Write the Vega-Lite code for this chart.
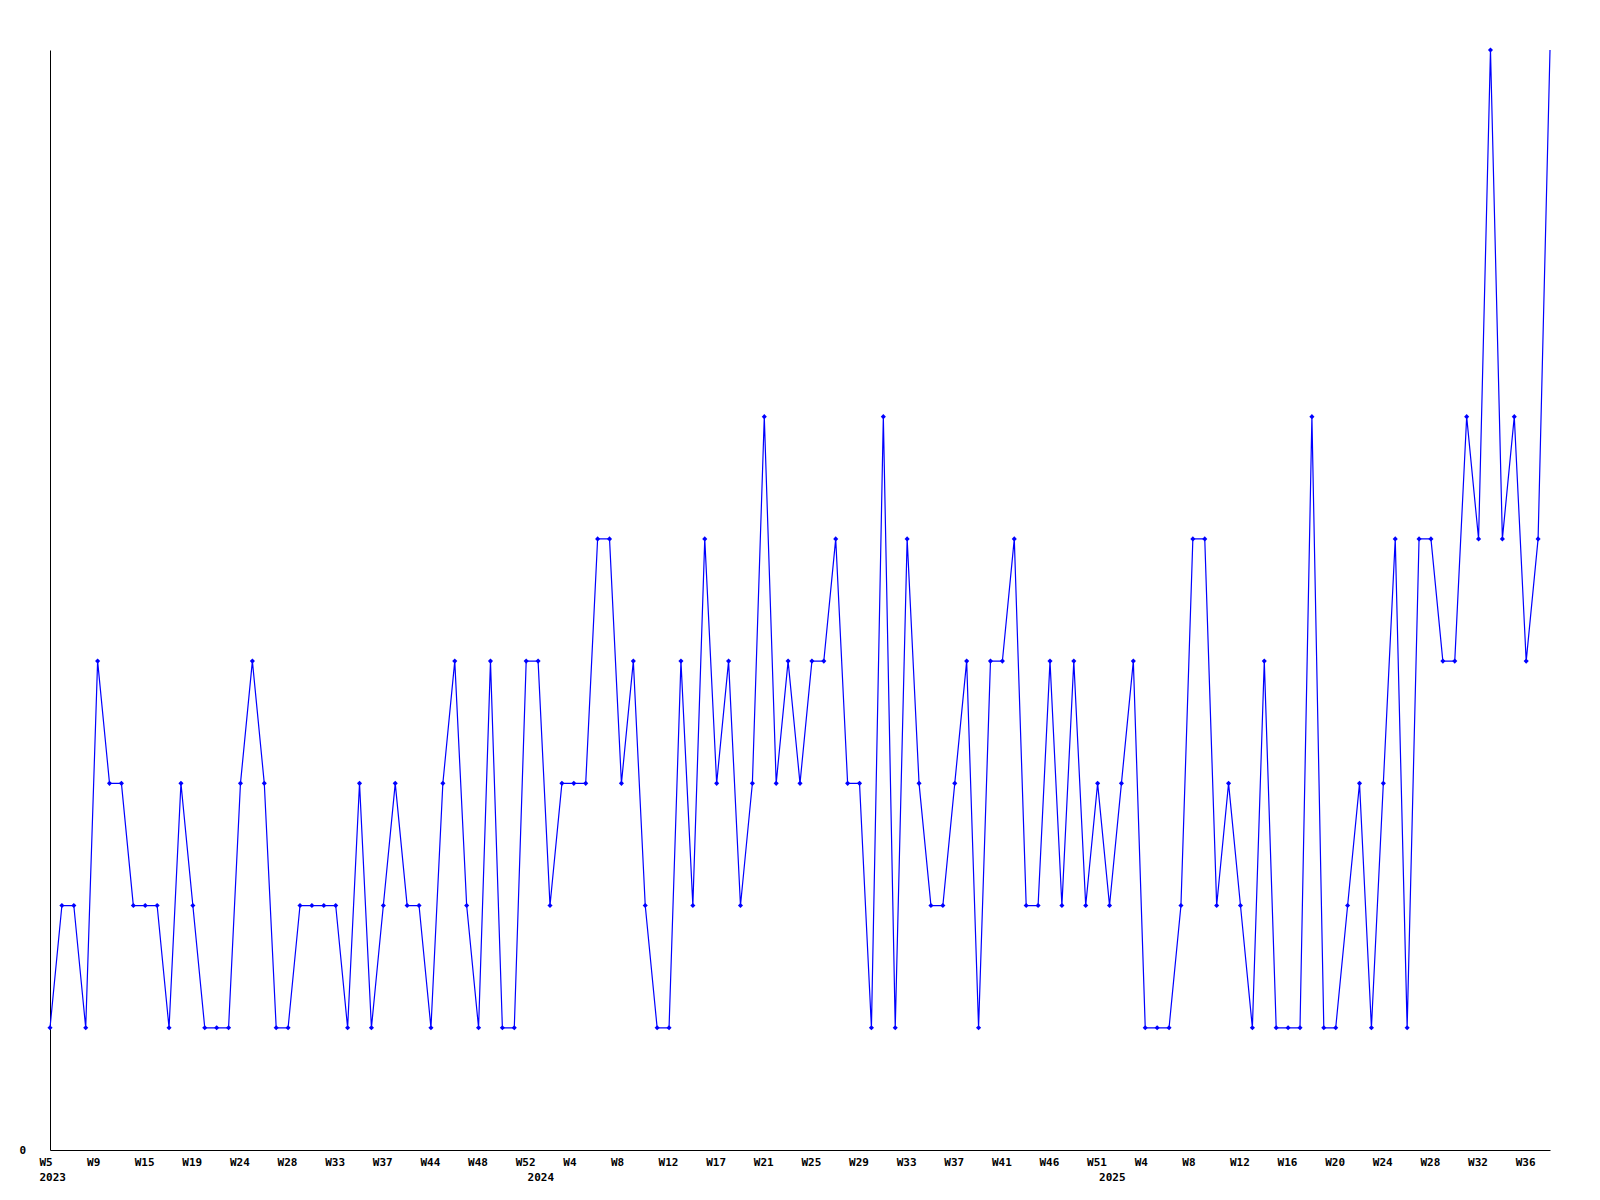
{
  "$schema": "https://vega.github.io/schema/vega-lite/v6.json",
  "width": 1500,
  "height": 1100,
  "autosize": {"type": "none"},
  "padding": {"left": 50, "top": 50, "right": 50, "bottom": 50},
  "background": "white",
  "config": {
    "view": {"stroke": null},
    "axis": {
      "labelFont": "DejaVu Sans Mono",
      "labelFontWeight": "bold",
      "labelFontSize": 11,
      "labelColor": "black",
      "domainColor": "black",
      "domainWidth": 1,
      "ticks": false,
      "grid": false,
      "title": null
    }
  },
  "data": {
    "values": [
      {"week": "2023-W05", "v": 1}, {"week": "2023-W06", "v": 2}, {"week": "2023-W07", "v": 2}, {"week": "2023-W08", "v": 1},
      {"week": "2023-W09", "v": 4}, {"week": "2023-W10", "v": 3}, {"week": "2023-W11", "v": 3}, {"week": "2023-W13", "v": 2},
      {"week": "2023-W15", "v": 2}, {"week": "2023-W16", "v": 2}, {"week": "2023-W17", "v": 1}, {"week": "2023-W18", "v": 3},
      {"week": "2023-W19", "v": 2}, {"week": "2023-W20", "v": 1}, {"week": "2023-W21", "v": 1}, {"week": "2023-W23", "v": 1},
      {"week": "2023-W24", "v": 3}, {"week": "2023-W25", "v": 4}, {"week": "2023-W26", "v": 3}, {"week": "2023-W27", "v": 1},
      {"week": "2023-W28", "v": 1}, {"week": "2023-W29", "v": 2}, {"week": "2023-W30", "v": 2}, {"week": "2023-W32", "v": 2},
      {"week": "2023-W33", "v": 2}, {"week": "2023-W34", "v": 1}, {"week": "2023-W35", "v": 3}, {"week": "2023-W36", "v": 1},
      {"week": "2023-W37", "v": 2}, {"week": "2023-W38", "v": 3}, {"week": "2023-W40", "v": 2}, {"week": "2023-W42", "v": 2},
      {"week": "2023-W44", "v": 1}, {"week": "2023-W45", "v": 3}, {"week": "2023-W46", "v": 4}, {"week": "2023-W47", "v": 2},
      {"week": "2023-W48", "v": 1}, {"week": "2023-W49", "v": 4}, {"week": "2023-W50", "v": 1}, {"week": "2023-W51", "v": 1},
      {"week": "2023-W52", "v": 4},
      {"week": "2024-W01", "v": 4}, {"week": "2024-W02", "v": 2}, {"week": "2024-W03", "v": 3},
      {"week": "2024-W04", "v": 3}, {"week": "2024-W05", "v": 3}, {"week": "2024-W06", "v": 5}, {"week": "2024-W07", "v": 5},
      {"week": "2024-W08", "v": 3}, {"week": "2024-W09", "v": 4}, {"week": "2024-W10", "v": 2}, {"week": "2024-W11", "v": 1},
      {"week": "2024-W12", "v": 1}, {"week": "2024-W13", "v": 4}, {"week": "2024-W14", "v": 2}, {"week": "2024-W16", "v": 5},
      {"week": "2024-W17", "v": 3}, {"week": "2024-W18", "v": 4}, {"week": "2024-W19", "v": 2}, {"week": "2024-W20", "v": 3},
      {"week": "2024-W21", "v": 6}, {"week": "2024-W22", "v": 3}, {"week": "2024-W23", "v": 4}, {"week": "2024-W24", "v": 3},
      {"week": "2024-W25", "v": 4}, {"week": "2024-W26", "v": 4}, {"week": "2024-W27", "v": 5}, {"week": "2024-W28", "v": 3},
      {"week": "2024-W29", "v": 3}, {"week": "2024-W30", "v": 1}, {"week": "2024-W31", "v": 6}, {"week": "2024-W32", "v": 1},
      {"week": "2024-W33", "v": 5}, {"week": "2024-W34", "v": 3}, {"week": "2024-W35", "v": 2}, {"week": "2024-W36", "v": 2},
      {"week": "2024-W37", "v": 3}, {"week": "2024-W38", "v": 4}, {"week": "2024-W39", "v": 1}, {"week": "2024-W40", "v": 4},
      {"week": "2024-W41", "v": 4}, {"week": "2024-W42", "v": 5}, {"week": "2024-W43", "v": 2}, {"week": "2024-W45", "v": 2},
      {"week": "2024-W46", "v": 4}, {"week": "2024-W47", "v": 2}, {"week": "2024-W48", "v": 4}, {"week": "2024-W50", "v": 2},
      {"week": "2024-W51", "v": 3},
      {"week": "2025-W01", "v": 2}, {"week": "2025-W02", "v": 3}, {"week": "2025-W03", "v": 4},
      {"week": "2025-W04", "v": 1}, {"week": "2025-W05", "v": 1}, {"week": "2025-W06", "v": 1}, {"week": "2025-W07", "v": 2},
      {"week": "2025-W08", "v": 5}, {"week": "2025-W09", "v": 5}, {"week": "2025-W10", "v": 2}, {"week": "2025-W11", "v": 3},
      {"week": "2025-W12", "v": 2}, {"week": "2025-W13", "v": 1}, {"week": "2025-W14", "v": 4}, {"week": "2025-W15", "v": 1},
      {"week": "2025-W16", "v": 1}, {"week": "2025-W17", "v": 1}, {"week": "2025-W18", "v": 6}, {"week": "2025-W19", "v": 1},
      {"week": "2025-W20", "v": 1}, {"week": "2025-W21", "v": 2}, {"week": "2025-W22", "v": 3}, {"week": "2025-W23", "v": 1},
      {"week": "2025-W24", "v": 3}, {"week": "2025-W25", "v": 5}, {"week": "2025-W26", "v": 1}, {"week": "2025-W27", "v": 5},
      {"week": "2025-W28", "v": 5}, {"week": "2025-W29", "v": 4}, {"week": "2025-W30", "v": 4}, {"week": "2025-W31", "v": 6},
      {"week": "2025-W32", "v": 5}, {"week": "2025-W33", "v": 9}, {"week": "2025-W34", "v": 5}, {"week": "2025-W35", "v": 6},
      {"week": "2025-W36", "v": 4}, {"week": "2025-W37", "v": 5}, {"week": "2025-W38", "v": 9}
    ]
  },
  "encoding": {
    "x": {
      "field": "week",
      "type": "ordinal",
      "sort": null,
      "scale": {"type": "point", "padding": 0},
      "axis": {
        "values": ["2023-W05", "2023-W09", "2023-W15", "2023-W19", "2023-W24", "2023-W28", "2023-W33", "2023-W37", "2023-W44", "2023-W48", "2023-W52",
                   "2024-W01", "2024-W04", "2024-W08", "2024-W12", "2024-W17", "2024-W21", "2024-W25", "2024-W29", "2024-W33", "2024-W37", "2024-W41", "2024-W46", "2024-W51",
                   "2025-W01", "2025-W04", "2025-W08", "2025-W12", "2025-W16", "2025-W20", "2025-W24", "2025-W28", "2025-W32", "2025-W36"],
        "labelExpr": "datum.value == '2023-W05' ? ['W5', '2023'] : datum.value == '2024-W01' ? ['', '2024'] : datum.value == '2025-W01' ? ['', '2025'] : 'W' + toNumber(slice(datum.value, 6))",
        "labelAlign": "left",
        "labelBaseline": "top",
        "labelOffset": -11,
        "labelPadding": 6,
        "labelLineHeight": 15,
        "labelOverlap": false,
        "labelFlush": false,
        "labelAngle": 0
      }
    },
    "y": {
      "field": "v",
      "type": "quantitative",
      "scale": {"domain": [0, 9], "nice": false, "zero": true},
      "axis": {
        "values": [0],
        "labelPadding": 31,
        "labelAlign": "left",
        "labelOffset": 0
      }
    }
  },
  "layer": [
    {
      "mark": {"type": "line", "color": "#0000ff", "strokeWidth": 1.2, "clip": false}
    },
    {
      "transform": [{"filter": "datum.week != '2025-W38'"}],
      "mark": {"type": "point", "shape": "diamond", "filled": true, "color": "#0000ff", "size": 26, "opacity": 1}
    }
  ]
}
